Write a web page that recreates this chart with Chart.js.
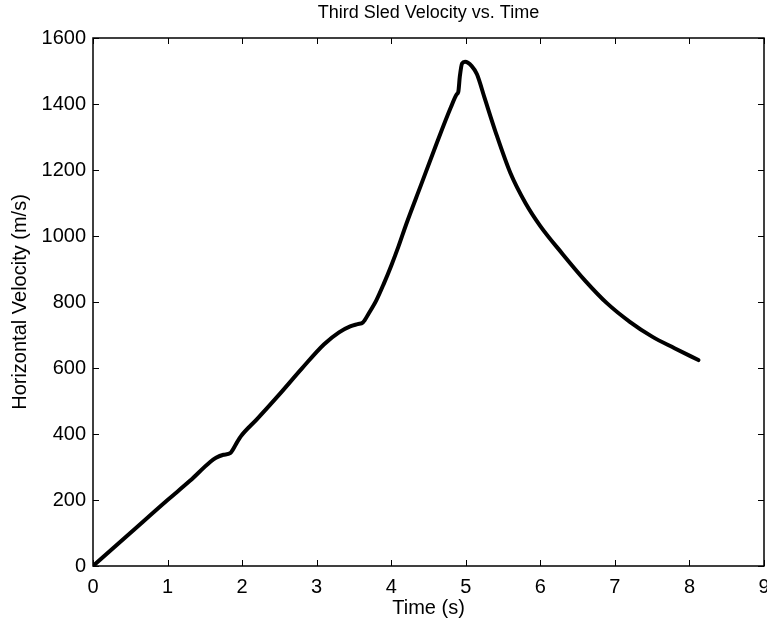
<!DOCTYPE html>
<html>
<head>
<meta charset="utf-8">
<script src="https://cdn.jsdelivr.net/npm/chart.js@4/dist/chart.umd.min.js"></script>
<style>
  body { margin: 0; background: #fff; }
  #wrap { width: 767px; height: 621px; overflow: hidden; }
</style>
</head>
<body>
<div id="wrap"><canvas id="c" width="767" height="621"></canvas></div>
<script>
// time (s) and horizontal velocity (m/s)
const timeValues = [0, 0.5, 1.0, 1.3, 1.575, 1.65, 1.75, 1.84, 1.92, 1.98, 2.2, 2.5, 2.8, 3.1, 3.3, 3.45, 3.55, 3.62, 3.7, 3.8, 3.9, 4.0, 4.1, 4.2, 4.4, 4.6, 4.8, 4.88, 4.9, 4.92, 4.95, 4.99, 5.08, 5.15, 5.25, 5.4, 5.6, 5.8, 6.0, 6.3, 6.6, 6.9, 7.2, 7.5, 7.8, 8.12];
const velocityValues = [0, 100, 200, 258, 316, 328, 337, 342, 370, 392, 445, 520, 598, 672, 708, 726, 733, 738, 766, 805, 855, 910, 970, 1035, 1155, 1275, 1390, 1430, 1437, 1483, 1523, 1528, 1515, 1490, 1420, 1315, 1190, 1100, 1030, 945, 865, 795, 740, 695, 660, 624];
const xTicks = [0, 1, 2, 3, 4, 5, 6, 7, 8, 9];
const yTicks = [0, 200, 400, 600, 800, 1000, 1200, 1400, 1600];
const titleText = 'Third Sled Velocity vs. Time';

const FONT = 'Liberation Sans, Arial, Helvetica, sans-serif';

// matlab style box with inward ticks on all four sides, title centred over the axes
const boxTicks = {
  id: 'boxTicks',
  afterDatasetsDraw(chart) {
    const { ctx, chartArea: a, scales: { x, y } } = chart;
    const len = 6;
    ctx.save();
    ctx.strokeStyle = '#000';
    ctx.lineWidth = 1;
    ctx.beginPath();
    xTicks.forEach(v => {
      const px = Math.round(x.getPixelForValue(v)) + 0.5;
      ctx.moveTo(px, a.bottom); ctx.lineTo(px, a.bottom - len);
      ctx.moveTo(px, a.top); ctx.lineTo(px, a.top + len);
    });
    yTicks.forEach(v => {
      const py = Math.round(y.getPixelForValue(v)) + 0.5;
      ctx.moveTo(a.left, py); ctx.lineTo(a.left + len, py);
      ctx.moveTo(a.right, py); ctx.lineTo(a.right - len, py);
    });
    ctx.stroke();
    ctx.lineWidth = 1.5;
    ctx.strokeRect(a.left, a.top, a.right - a.left, a.bottom - a.top);

    ctx.fillStyle = '#000';
    ctx.font = '18px ' + FONT;
    ctx.textAlign = 'center';
    ctx.textBaseline = 'middle';
    ctx.fillText(titleText, (a.left + a.right) / 2, 13);
    ctx.restore();
  }
};

new Chart(document.getElementById('c'), {
  type: 'line',
  data: {
    datasets: [{
      data: timeValues.map((t, i) => ({ x: t, y: velocityValues[i] })),
      borderColor: '#000',
      borderWidth: 4,
      borderCapStyle: 'round',
      borderJoinStyle: 'round',
      pointRadius: 0,
      cubicInterpolationMode: 'monotone',
      fill: false
    }]
  },
  options: {
    responsive: false,
    animation: false,
    layout: { padding: { left: 0, right: 3, top: 38, bottom: 0 } },
    plugins: {
      legend: { display: false },
      tooltip: { enabled: false },
      title: { display: false }
    },
    scales: {
      x: {
        type: 'linear',
        min: 0, max: 9,
        afterBuildTicks: s => { s.ticks = xTicks.map(v => ({ value: v })); },
        afterFit: s => { s.height = 55; s.paddingLeft = 0; s.paddingRight = 0; },
        grid: { display: false, drawTicks: false },
        border: { display: false },
        ticks: { color: '#000', padding: 9, font: { family: FONT, size: 20 }, maxRotation: 0, callback: v => String(v) },
        title: { display: true, text: 'Time (s)', color: '#000', font: { family: FONT, size: 20 }, padding: { top: 0, bottom: 1 } }
      },
      y: {
        min: 0, max: 1600,
        afterBuildTicks: s => { s.ticks = yTicks.map(v => ({ value: v })); },
        afterFit: s => { s.width = 93; s.paddingTop = 0; s.paddingBottom = 0; },
        grid: { display: false, drawTicks: false },
        border: { display: false },
        ticks: { color: '#000', padding: 7, font: { family: FONT, size: 20 }, callback: v => String(v) },
        title: { display: true, text: 'Horizontal Velocity (m/s)', color: '#000', font: { family: FONT, size: 20 }, padding: { top: 8, bottom: 0 } }
      }
    }
  },
  plugins: [boxTicks]
});
</script>
</body>
</html>
